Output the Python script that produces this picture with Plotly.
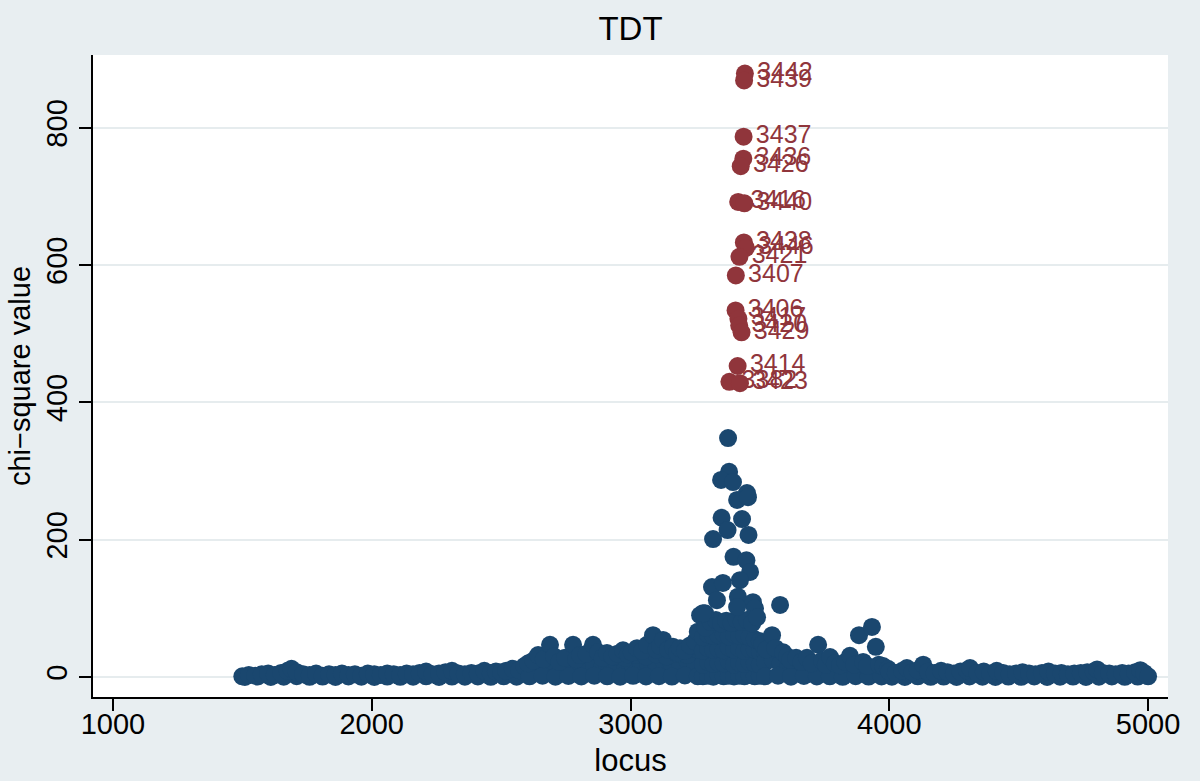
import plotly.graph_objects as go

# ---------------- data ----------------
# quiet left part, upper edge of the band
left_locus = [1500, 1525, 1550, 1575, 1600, 1625, 1650, 1675, 1690, 1710, 1735, 1760, 1785, 1810,
              1835, 1860, 1885, 1910, 1935, 1960, 1985, 2010, 2035, 2060, 2085, 2110, 2135, 2160,
              2185, 2210, 2235, 2260, 2285, 2310, 2335, 2360, 2385, 2410, 2435, 2460, 2480, 2500,
              2520, 2545, 2570, 2590]
left_chi = [1, 3, 2, 4, 5, 3, 6, 9, 12, 7, 4, 3, 5, 2,
            4, 3, 5, 3, 4, 2, 5, 4, 3, 5, 4, 3, 5, 4,
            6, 8, 4, 5, 7, 9, 5, 4, 6, 5, 9, 6, 8, 7,
            9, 12, 10, 16]
# quiet left part, bottom of the band
left_low_locus = [1510, 1560, 1610, 1660, 1710, 1760, 1810, 1860, 1910, 1960, 2010, 2060,
                  2110, 2160, 2210, 2260, 2310, 2360, 2410, 2460, 2510, 2560]
left_low_chi = [0.2, 0.8, 0.1, 0.5, 1.2, 0.3, 0.6, 0.2, 0.9, 0.4, 0.1, 0.7,
                0.3, 0.5, 1.0, 0.2, 0.6, 0.4, 0.8, 0.3, 1.1, 0.5]

# rising part before the peak
mid_locus = [2605, 2625, 2643, 2665, 2689, 2705, 2725, 2747, 2778, 2790, 2805, 2830, 2855, 2875,
             2892, 2909, 2930, 2950, 2971, 2990, 3005, 3025, 3045, 3064, 3087, 3100, 3115, 3126,
             3145, 3164, 3180, 3191, 3210, 3230, 3250, 3260, 3269]
mid_chi = [20, 24, 32, 26, 47, 30, 22, 28, 47, 26, 32, 34, 47, 36,
           28, 35, 30, 34, 39, 33, 36, 42, 38, 47, 61, 40, 45, 54,
           40, 44, 36, 42, 38, 46, 52, 66, 90]
mid_fill_locus = [2620, 2650, 2680, 2710, 2740, 2770, 2800, 2830, 2860, 2890, 2920, 2950, 2980,
                  3010, 3040, 3070, 3100, 3130, 3160, 3190, 3220, 3250,
                  2940, 2980, 3020, 3060, 3100, 3140, 3180, 3220, 3260,
                  2610, 2660, 2710, 2760, 2810, 2860, 2910, 2960, 3010, 3060, 3110, 3160, 3210, 3260]
mid_fill_chi = [14, 18, 15, 17, 13, 16, 18, 15, 17, 14, 19, 16, 18,
                15, 20, 17, 19, 22, 18, 21, 24, 20,
                30, 28, 32, 30, 33, 30, 34, 32, 40,
                1, 2, 0.5, 1.5, 0.8, 2, 1, 0.4, 1.8, 0.9, 1.2, 0.6, 2.2, 1]

# dense body of the peak
peak_fill_locus = [3280, 3300, 3320, 3340, 3360, 3380, 3400, 3420, 3440, 3460, 3480, 3500,
                   3280, 3300, 3320, 3340, 3360, 3380, 3400, 3420, 3440, 3460, 3480, 3500,
                   3280, 3300, 3320, 3340, 3360, 3380, 3400, 3420, 3440, 3460, 3480, 3500,
                   3280, 3300, 3320, 3340, 3360, 3380, 3400, 3420, 3440, 3460, 3480, 3500,
                   3290, 3310, 3330, 3350, 3370, 3390, 3410, 3430, 3450, 3470]
peak_fill_chi = [1, 2, 0.5, 3, 1, 2, 0.8, 2, 1, 3, 1, 2,
                 18, 22, 19, 21, 20, 23, 18, 21, 19, 22, 20, 18,
                 38, 42, 40, 41, 39, 43, 40, 42, 38, 41, 40, 37,
                 58, 62, 60, 61, 63, 59, 62, 60, 61, 58, 55, 52,
                 72, 80, 83, 78, 82, 79, 84, 80, 83, 78]
# individual high points of the peak (unlabelled)
peak_locus = [3377, 3381, 3350, 3396, 3450, 3412, 3454, 3352, 3431, 3375, 3319, 3456,
              3398, 3448, 3462, 3423, 3315, 3357, 3415, 3473, 3288, 3334, 3412, 3481, 3280, 3489]
peak_chi = [348, 299, 287, 284, 268, 258, 262, 232, 230, 214, 201, 207,
            175, 170, 153, 141, 131, 137, 117, 109, 93, 112, 102, 100, 93, 87]

# tail after the peak
right_locus = [3510, 3525, 3547, 3560, 3578, 3590, 3605, 3617, 3640, 3660, 3682, 3700, 3725,
               3740, 3755, 3771, 3790, 3810, 3830, 3848, 3865, 3883, 3899, 3915, 3933, 3948,
               3960, 3976, 3995]
right_chi = [48, 40, 61, 42, 105, 36, 30, 25, 28, 22, 28, 20, 47,
             24, 18, 29, 20, 17, 22, 31, 18, 61, 22, 16, 73, 44,
             18, 16, 12]
right_fill_locus = [3520, 3540, 3560, 3580, 3600,
                    3520, 3550, 3580, 3610, 3640, 3670, 3700, 3730, 3760, 3790, 3820, 3850,
                    3880, 3910, 3940, 3970,
                    3520, 3570, 3620, 3670, 3720, 3770, 3820, 3870, 3920, 3970]
right_fill_chi = [35, 38, 32, 30, 28,
                  22, 25, 20, 15, 12, 14, 11, 15, 10, 9, 12, 10,
                  11, 9, 12, 8,
                  1, 2, 0.5, 1.5, 0.8, 1, 0.3, 1.2, 0.6, 0.9]

# quiet right part
far_locus = [4000, 4025, 4050, 4068, 4090, 4110, 4131, 4150, 4175, 4200, 4225, 4250, 4275, 4300,
             4312, 4340, 4365, 4390, 4415, 4440, 4465, 4490, 4515, 4540, 4565, 4590, 4615, 4640,
             4665, 4690, 4715, 4740, 4765, 4790, 4803, 4825, 4850, 4875, 4900, 4925, 4950, 4970,
             4985, 5000]
far_chi = [8, 6, 9, 13, 7, 10, 18, 8, 6, 9, 7, 5, 8, 10,
           13, 6, 8, 5, 9, 6, 4, 5, 7, 5, 4, 6, 8, 5,
           6, 4, 5, 6, 7, 8, 11, 6, 5, 4, 6, 5, 7, 10,
           6, 1]
far_low_locus = [4010, 4060, 4110, 4160, 4210, 4260, 4310, 4360, 4410, 4460, 4510, 4560,
                 4610, 4660, 4710, 4760, 4810, 4860, 4910, 4960]
far_low_chi = [0.5, 0.2, 1.0, 0.3, 0.7, 0.1, 0.9, 0.4, 0.2, 0.6, 0.3, 0.8,
               0.1, 0.5, 0.7, 0.2, 0.4, 0.9, 0.3, 0.6]

# labelled points (chi-square > 400)
lab_locus = [3442, 3439, 3437, 3436, 3426, 3416, 3440, 3438, 3446, 3421, 3407,
             3406, 3417, 3420, 3429, 3414, 3382, 3423]
lab_chi = [879, 869, 787, 755, 744, 692, 690, 633, 625, 612, 585,
           534, 522, 512, 502, 453, 430, 428]

x_ticks = [1000, 2000, 3000, 4000, 5000]
y_ticks = [0, 200, 400, 600, 800]

# ---------------- figure ----------------
all_locus = (left_low_locus + left_locus + mid_fill_locus + mid_locus + peak_fill_locus
             + peak_locus + right_fill_locus + right_locus + far_low_locus + far_locus)
all_chi = (left_low_chi + left_chi + mid_fill_chi + mid_chi + peak_fill_chi
           + peak_chi + right_fill_chi + right_chi + far_low_chi + far_chi)

NAVY = "#1A476F"
MAROON = "#90353B"
BG = "#E8EEF1"
FONT = "Liberation Sans, Arial, sans-serif"

fig = go.Figure()
fig.add_trace(go.Scatter(x=all_locus, y=all_chi, mode="markers",
                         marker=dict(color=NAVY, size=18, line=dict(width=0)),
                         hoverinfo="skip", showlegend=False))
fig.add_trace(go.Scatter(x=lab_locus, y=lab_chi, mode="markers+text",
                         text=[str(v) for v in lab_locus], textposition="middle right",
                         textfont=dict(color=MAROON, size=25, family=FONT),
                         marker=dict(color=MAROON, size=18, line=dict(width=0)),
                         hoverinfo="skip", showlegend=False))

fig.update_layout(
    width=1200, height=781,
    paper_bgcolor=BG, plot_bgcolor="white",
    margin=dict(l=93, r=32, t=55, b=84, autoexpand=False),
    font=dict(family=FONT, color="black", size=28),
    title=dict(text="TDT", x=0.5, xref="paper", y=1 - 28 / 781, yref="container",
               yanchor="middle", xanchor="center", font=dict(size=33, color="black")),
    xaxis=dict(range=[923, 5077], tickvals=x_ticks, ticks="outside", ticklen=12, tickwidth=2,
               tickcolor="black", showline=True, linecolor="black", linewidth=2,
               showgrid=False, zeroline=False, tickfont=dict(size=29), automargin=False,
               ticklabelstandoff=-12,
               title=dict(text="locus", font=dict(size=31), standoff=11)),
    yaxis=dict(range=[-29.1, 906], tickvals=y_ticks, ticks="outside", ticklen=12, tickwidth=2,
               tickcolor="black", showline=True, linecolor="black", linewidth=2,
               showgrid=True, gridcolor="#E6ECEE", gridwidth=2, zeroline=False,
               tickangle=-90, tickfont=dict(size=29), ticklabelstandoff=0, automargin=False,
               title=dict(text="chi\u2212square value", font=dict(size=29), standoff=2)),
)

fig.write_html("out.html", config={"displayModeBar": False},
               post_script="document.body.style.margin='0';")
